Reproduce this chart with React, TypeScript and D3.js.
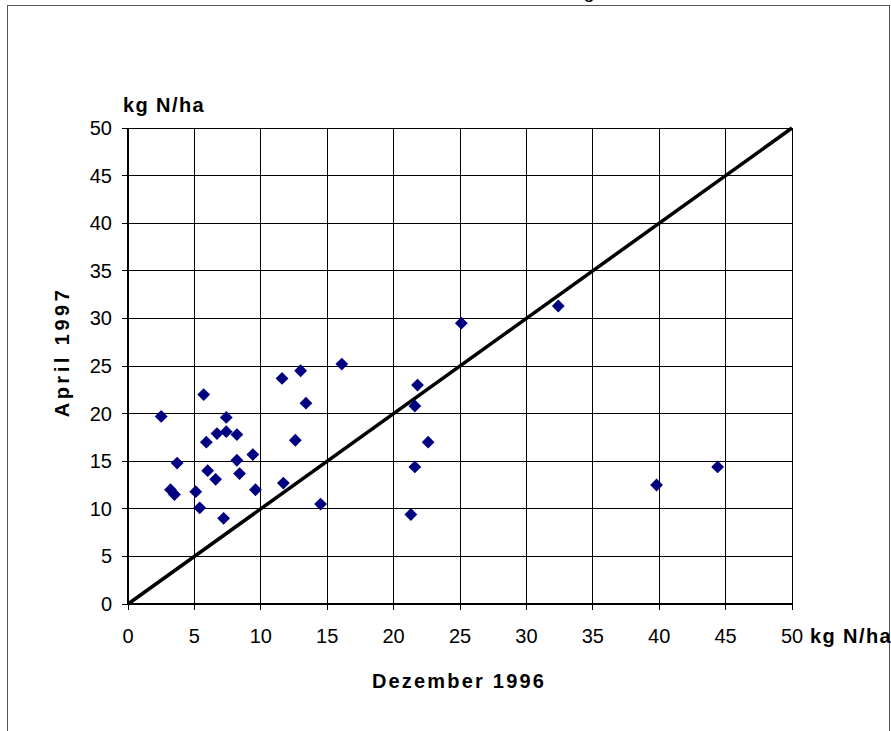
import React from "react";
import * as d3 from "d3";

const xValues = [2.5, 5.7, 7.4, 6.7, 7.4, 8.2, 5.9, 3.7, 8.2, 9.4, 6.0, 6.6, 8.4, 3.2, 3.5, 5.1, 5.4, 7.2, 9.6, 11.7, 11.6, 13.0, 13.4, 12.6, 14.5, 16.1, 25.1, 32.4, 21.8, 21.6, 22.6, 21.6, 21.3, 39.8, 44.4];
const yValues = [19.7, 22.0, 19.6, 17.9, 18.1, 17.8, 17.0, 14.8, 15.1, 15.7, 14.0, 13.1, 13.7, 12.0, 11.5, 11.8, 10.1, 9.0, 12.0, 12.7, 23.7, 24.5, 21.1, 17.2, 10.5, 25.2, 29.5, 31.3, 23.0, 20.8, 17.0, 14.4, 9.4, 12.5, 14.4];
const tickValues = [0, 5, 10, 15, 20, 25, 30, 35, 40, 45, 50];
const unitLabel = "kg N/ha";
const xTitle = "Dezember 1996";
const yTitle = "April 1997";

const W = 891;
const H = 731;
const left = 128;
const right = 792;
const top = 128;
const bottom = 604;

export default function App() {
  const x = d3.scaleLinear().domain([0, 50]).range([left, right]);
  const y = d3.scaleLinear().domain([0, 50]).range([bottom, top]);
  const font = "'Liberation Sans', Arial, sans-serif";
  const r = 6.4;
  const diamond = (cx: number, cy: number) =>
    `M${cx},${cy - r}L${cx + r},${cy}L${cx},${cy + r}L${cx - r},${cy}Z`;
  const line = d3.line<number>().x((d) => x(d)).y((d) => y(d));

  return (
    <svg
      width={W}
      height={H}
      style={{ position: "absolute", left: 0, top: 0, background: "#fff" }}
      fontFamily={font}
    >
      <rect x={7.5} y={5.5} width={882} height={740} fill="#fff" stroke="#555" strokeWidth={1} />
      <text x={589} y={-2} fontSize={20} textAnchor="middle" fill="#000">g</text>
      {/* grid */}
      <g shapeRendering="crispEdges">
        {tickValues.map((t) => (
          <line key={"gx" + t} x1={x(t)} x2={x(t)} y1={top} y2={bottom} stroke="#000" strokeWidth={1} />
        ))}
        {tickValues.map((t) => (
          <line key={"gy" + t} x1={left} x2={right} y1={y(t)} y2={y(t)} stroke="#000" strokeWidth={1} />
        ))}
        {tickValues.map((t) => (
          <line key={"tx" + t} x1={x(t)} x2={x(t)} y1={bottom} y2={bottom + 6} stroke="#000" strokeWidth={1} />
        ))}
        {tickValues.map((t) => (
          <line key={"ty" + t} x1={left - 6} x2={left} y1={y(t)} y2={y(t)} stroke="#000" strokeWidth={1} />
        ))}
        <line x1={left} x2={left} y1={top} y2={bottom + 1} stroke="#000" strokeWidth={2} />
        <line x1={left - 1} x2={right} y1={bottom} y2={bottom} stroke="#000" strokeWidth={2} />
      </g>
      {/* tick labels */}
      {tickValues.map((t) => (
        <text key={"lx" + t} x={x(t)} y={bottom + 39} fontSize={20} textAnchor="middle" fill="#000">
          {t}
        </text>
      ))}
      {tickValues.map((t) => (
        <text key={"ly" + t} x={112} y={y(t) + 7} fontSize={20} textAnchor="end" fill="#000">
          {t}
        </text>
      ))}
      {/* diagonal */}
      <path d={line([0, 50]) || ""} stroke="#000" strokeWidth={3.5} fill="none" />
      {/* points */}
      {xValues.map((xv, i) => (
        <path key={"p" + i} d={diamond(x(xv), y(yValues[i]))} fill="#000080" />
      ))}
      {/* unit labels */}
      <text x={123} y={112} fontSize={20} fontWeight="bold" letterSpacing={1.4} fill="#000">{unitLabel}</text>
      <text x={810} y={bottom + 39} fontSize={20} fontWeight="bold" letterSpacing={1.4} fill="#000">{unitLabel}</text>
      <text x={459} y={688} fontSize={20} fontWeight="bold" textAnchor="middle" letterSpacing={2.2} fill="#000">
        {xTitle}
      </text>
      <text
        transform={`translate(69, 352) rotate(-90)`}
        fontSize={20}
        fontWeight="bold"
        textAnchor="middle"
        letterSpacing={3.5}
        fill="#000"
      >
        {yTitle}
      </text>
    </svg>
  );
}
